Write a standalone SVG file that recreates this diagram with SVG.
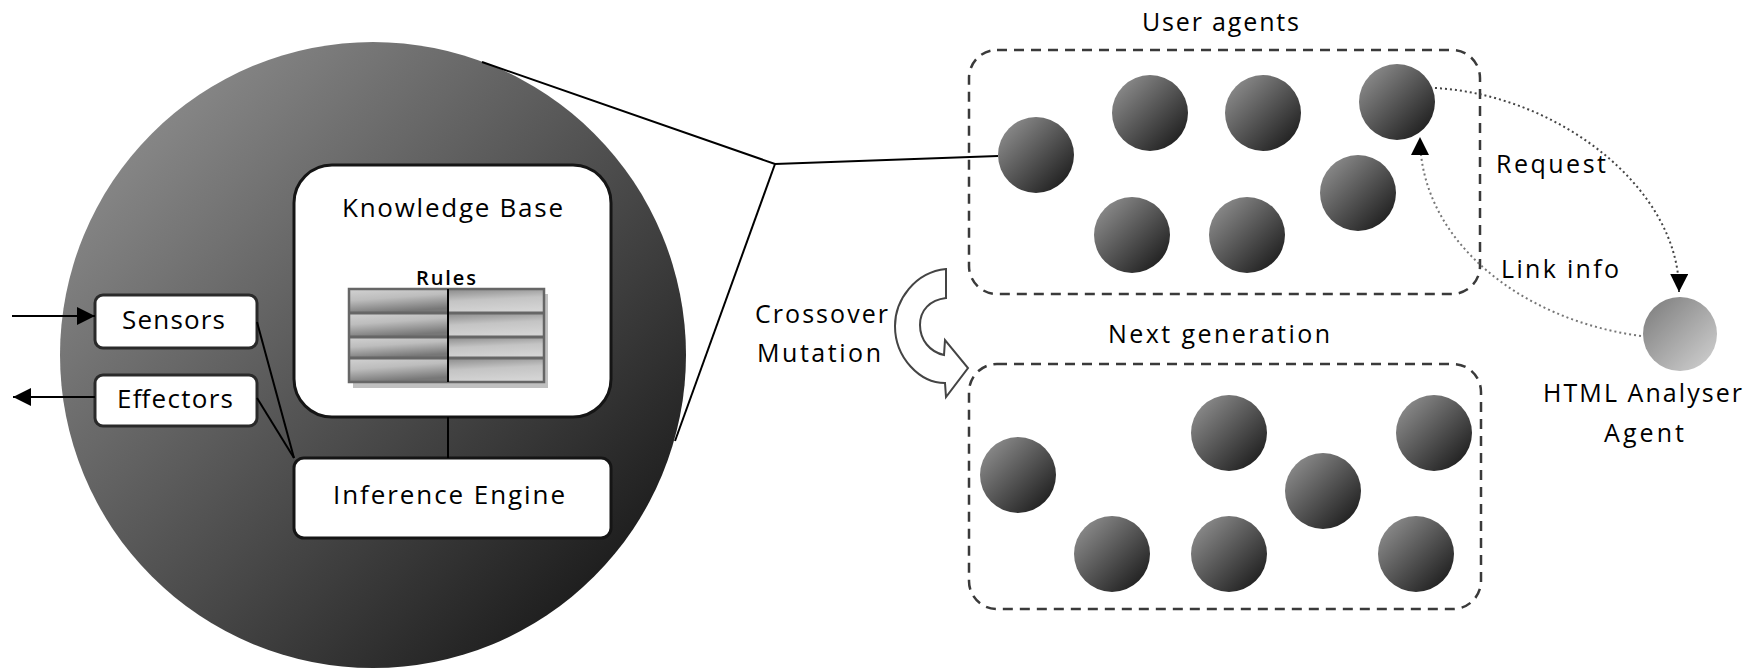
<svg xmlns="http://www.w3.org/2000/svg" width="1762" height="669" viewBox="0 0 1762 669">
  <style>
    .lbl { font-family: "Open Sans", "Liberation Sans", sans-serif; font-size: 26px; fill: #000; }
    .lbl-s { font-family: "Open Sans", "Liberation Sans", sans-serif; font-size: 25px; fill: #000; }
    .rules { font-family: "Open Sans", "Liberation Sans", sans-serif; font-size: 20px; font-weight: 600; fill: #000; }
    .box { fill: #fff; stroke: #151515; stroke-width: 3; }
    .small-box { fill: #fff; stroke: #2a2a2a; stroke-width: 3; }
    .group-box { fill: none; stroke: #3a3a3a; stroke-width: 2.5; stroke-dasharray: 10 7; }
    .agent { fill: url(#agentFill); }
    .wire { stroke: #000; stroke-width: 2; fill: none; }
    .dots-dark { stroke: #444; stroke-width: 2; stroke-dasharray: 2 3; fill: none; }
    .dots-light { stroke: #777; stroke-width: 2; stroke-dasharray: 2 3; fill: none; }
  </style>
  <defs>
    <linearGradient id="bodyFill" gradientUnits="userSpaceOnUse" x1="150" y1="130" x2="600" y2="580">
      <stop offset="0" stop-color="#868686"/>
      <stop offset="1" stop-color="#1e1e1e"/>
    </linearGradient>
    <linearGradient id="agentFill" x1="0.15" y1="0.15" x2="0.85" y2="0.85">
      <stop offset="0" stop-color="#858585"/>
      <stop offset="1" stop-color="#252525"/>
    </linearGradient>
    <linearGradient id="analyserFill" x1="0.15" y1="0.15" x2="0.85" y2="0.85">
      <stop offset="0" stop-color="#878787"/>
      <stop offset="1" stop-color="#c6c6c6"/>
    </linearGradient>
    <linearGradient id="cellLeft" x1="0" y1="0" x2="0.3" y2="1">
      <stop offset="0" stop-color="#d2d2d2"/>
      <stop offset="0.45" stop-color="#bdbdbd"/>
      <stop offset="1" stop-color="#777"/>
    </linearGradient>
    <linearGradient id="cellRight" x1="0" y1="0" x2="0.2" y2="1">
      <stop offset="0" stop-color="#8a8a8a"/>
      <stop offset="0.5" stop-color="#c4c4c4"/>
      <stop offset="1" stop-color="#d4d4d4"/>
    </linearGradient>
    <marker id="head" markerUnits="userSpaceOnUse" markerWidth="20" markerHeight="20" refX="18" refY="9" orient="auto">
      <path d="M0,0 L18,9 L0,18 Z" fill="#000"/>
    </marker>
  </defs>

  <!-- agent body (zoomed view) -->
  <g id="agent-body">
    <circle cx="373" cy="355" r="313" fill="url(#bodyFill)"/>
  </g>

  <g id="knowledge-base">
    <rect class="box" x="294" y="165" width="317" height="252" rx="38"/>
    <text class="lbl" x="342" y="217" textLength="221" lengthAdjust="spacing">Knowledge Base</text>
    <text class="rules" x="416" y="285" textLength="60" lengthAdjust="spacing">Rules</text>
    <!-- rule table -->
    <rect x="353" y="294" width="195" height="94" fill="#c0c0c0"/>
    <rect x="349" y="289" width="99" height="24" fill="url(#cellLeft)"/>
    <rect x="349" y="313" width="99" height="24" fill="url(#cellLeft)"/>
    <rect x="349" y="337" width="99" height="21" fill="url(#cellLeft)"/>
    <rect x="349" y="358" width="99" height="24" fill="url(#cellLeft)"/>
    <rect x="448" y="289" width="96" height="24" fill="url(#cellRight)"/>
    <rect x="448" y="313" width="96" height="24" fill="url(#cellRight)"/>
    <rect x="448" y="337" width="96" height="21" fill="url(#cellRight)"/>
    <rect x="448" y="358" width="96" height="24" fill="url(#cellRight)"/>
    <path d="M349,313 H544 M349,337 H544 M349,358 H544" stroke="#666" stroke-width="3"/>
    <rect x="349" y="289" width="195" height="93" fill="none" stroke="#666" stroke-width="2.5"/>
    <line x1="448" y1="289" x2="448" y2="382" stroke="#000" stroke-width="2"/>
  </g>

  <g id="inference-engine">
    <rect class="box" x="294" y="458" width="317" height="80" rx="10"/>
    <text class="lbl" x="333" y="504" textLength="232" lengthAdjust="spacing">Inference Engine</text>
  </g>

  <g id="sensors">
    <rect class="small-box" x="95" y="295" width="162" height="53" rx="8"/>
    <text class="lbl" x="122" y="329" textLength="103" lengthAdjust="spacing">Sensors</text>
  </g>

  <g id="effectors">
    <rect class="small-box" x="95" y="375" width="162" height="51" rx="8"/>
    <text class="lbl" x="117" y="408" textLength="116" lengthAdjust="spacing">Effectors</text>
  </g>

  <!-- population of user agents -->
  <g id="user-agents">
    <rect class="group-box" x="969" y="50" width="511" height="244" rx="28"/>
    <text class="lbl-s" x="1142" y="31" textLength="157" lengthAdjust="spacing">User agents</text>
    <circle class="agent" cx="1036" cy="155" r="38"/>
    <circle class="agent" cx="1150" cy="113" r="38"/>
    <circle class="agent" cx="1263" cy="113" r="38"/>
    <circle class="agent" cx="1397" cy="102" r="38"/>
    <circle class="agent" cx="1358" cy="193" r="38"/>
    <circle class="agent" cx="1132" cy="235" r="38"/>
    <circle class="agent" cx="1247" cy="235" r="38"/>
  </g>

  <g id="next-generation">
    <rect class="group-box" x="969" y="364" width="512" height="245" rx="28"/>
    <text class="lbl-s" x="1108" y="343" textLength="222" lengthAdjust="spacing">Next generation</text>
    <circle class="agent" cx="1018" cy="475" r="38"/>
    <circle class="agent" cx="1229" cy="433" r="38"/>
    <circle class="agent" cx="1434" cy="433" r="38"/>
    <circle class="agent" cx="1323" cy="491" r="38"/>
    <circle class="agent" cx="1112" cy="554" r="38"/>
    <circle class="agent" cx="1229" cy="554" r="38"/>
    <circle class="agent" cx="1416" cy="554" r="38"/>
  </g>

  <g id="html-analyser">
    <circle cx="1680" cy="334" r="37" fill="url(#analyserFill)"/>
    <text class="lbl-s" x="1543" y="402" textLength="199" lengthAdjust="spacing">HTML Analyser</text>
    <text class="lbl-s" x="1604" y="442" textLength="80" lengthAdjust="spacing">Agent</text>
  </g>

  <g id="evolution">
    <path d="M946,269 C915,272 895,300 895,326 C895,358 920,383 945,383 L946,397 L968,368 L945,340 L944,355 C930,352 920,340 920,325 C920,310 930,300 946,298 Z" fill="#fff" stroke="#444" stroke-width="2"/>
    <text class="lbl-s" x="755" y="323" textLength="133" lengthAdjust="spacing">Crossover</text>
    <text class="lbl-s" x="757" y="362" textLength="124" lengthAdjust="spacing">Mutation</text>
  </g>

  <g id="connectors">
    <!-- environment I/O -->
    <line class="wire" x1="12" y1="316" x2="95" y2="316" stroke-width="2.5" marker-end="url(#head)"/>
    <line class="wire" x1="95" y1="397" x2="13" y2="397" stroke-width="2.5" marker-end="url(#head)"/>
    <line class="wire" x1="257" y1="322" x2="294" y2="458"/>
    <line class="wire" x1="257" y1="398" x2="294" y2="458"/>
    <line class="wire" x1="448" y1="417" x2="448" y2="458" stroke-width="3"/>
    <!-- zoom cone to a single agent -->
    <polyline class="wire" points="482,62 775,164 998,156"/>
    <line class="wire" x1="775" y1="164" x2="675" y2="441"/>
    <!-- messages with the analyser -->
    <path class="dots-dark" d="M1435,88 C1560,95 1680,190 1679,292" marker-end="url(#head)"/>
    <path class="dots-light" d="M1641,336 C1520,320 1420,240 1420,137" marker-end="url(#head)"/>
    <text class="lbl-s" x="1496" y="173" textLength="110" lengthAdjust="spacing">Request</text>
    <text class="lbl-s" x="1501" y="278" textLength="118" lengthAdjust="spacing">Link info</text>
  </g>
</svg>
